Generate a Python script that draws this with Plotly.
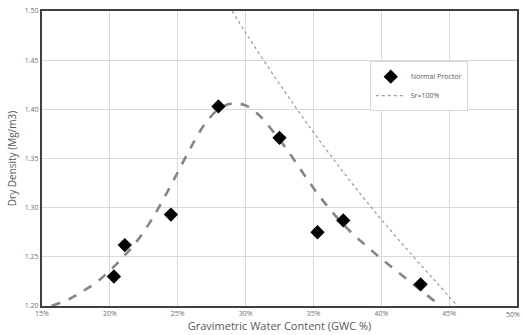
import plotly.graph_objects as go

# Measured points (Normal Proctor)
gwc_pts = [20.3, 21.1, 24.5, 28.0, 32.5, 35.3, 37.2, 42.9]
dd_pts = [1.230, 1.262, 1.293, 1.403, 1.371, 1.275, 1.287, 1.222]

# Fitted compaction curve
fit_x = [15.7, 17, 18, 19, 20, 21, 22, 23, 24, 25, 26, 27, 28, 29, 30, 31, 32,
         33, 34, 35, 36, 37, 38, 39, 40, 41, 42, 43, 44, 44.3]
fit_y = [1.200, 1.207, 1.215, 1.224, 1.236, 1.250, 1.266, 1.286, 1.310, 1.336,
         1.362, 1.385, 1.400, 1.406, 1.404, 1.394, 1.378, 1.360, 1.340, 1.320,
         1.302, 1.286, 1.272, 1.260, 1.248, 1.237, 1.226, 1.215, 1.204, 1.200]

# Saturation line Sr=100%
sr_x = [29.0, 30, 32, 34, 36, 38, 40, 42, 44, 45.6]
sr_y = [1.500, 1.478, 1.436, 1.396, 1.358, 1.322, 1.288, 1.256, 1.225, 1.200]

x_ticks = [15, 20, 25, 30, 35, 40, 45, 50]
x_labels = ["15%", "20%", "25%", "30%", "35%", "40%", "45%", "50%"]
y_ticks = [1.20, 1.25, 1.30, 1.35, 1.40, 1.45, 1.50]
y_labels = ["1.20", "1.25", "1.30", "1.35", "1.40", "1.45", "1.50"]

tick_font = dict(family="Open Sans, sans-serif", size=7, color="#707070")

fig = go.Figure()
fig.add_trace(go.Scatter(x=fit_x, y=fit_y, mode="lines", showlegend=False,
                         line=dict(color="#858585", width=2.6, dash="dash", shape="spline"),
                         hoverinfo="skip"))
fig.add_trace(go.Scatter(x=gwc_pts, y=dd_pts, mode="markers", name="Normal Proctor",
                         marker=dict(symbol="diamond", size=11, color="black")))
fig.add_trace(go.Scatter(x=sr_x, y=sr_y, mode="lines", name="Sr=100%",
                         line=dict(color="#9a9a9a", width=1.2, dash="dot", shape="spline")))

axis_common = dict(showgrid=True, gridcolor="#d9d9d9", gridwidth=1,
                   showline=True, linecolor="#404040", linewidth=2, mirror=True,
                   zeroline=False, ticks="", automargin=False, tickfont=tick_font)

# last x label drawn as an annotation, right-aligned at the page edge
fig.add_annotation(text=x_labels[-1], xref="paper", yref="paper", x=1, y=0,
                   xanchor="right", yanchor="top", xshift=5, yshift=-2,
                   showarrow=False, font=tick_font)

fig.update_layout(
    width=522, height=335,
    margin=dict(l=42, r=5, t=11, b=29),
    paper_bgcolor="white", plot_bgcolor="white",
    font=dict(family="Open Sans, sans-serif"),
    xaxis=dict(range=[15, 50], tickvals=x_ticks[:-1], ticktext=x_labels[:-1],
               title=dict(text="Gravimetric Water Content (GWC %)", standoff=4,
                          font=dict(size=11, color="#595959")),
               **axis_common),
    yaxis=dict(range=[1.20, 1.50], tickvals=y_ticks, ticktext=y_labels,
               title=dict(text="Dry Density (Mg/m3)", standoff=6,
                          font=dict(size=10, color="#595959")),
               **axis_common),
    legend=dict(x=0.69, y=0.83, xanchor="left", yanchor="top",
                bgcolor="white", bordercolor="#d9d9d9", borderwidth=1,
                font=dict(size=7, color="#595959"), itemwidth=30,
                tracegroupgap=4),
)

fig.write_html("out.html")
